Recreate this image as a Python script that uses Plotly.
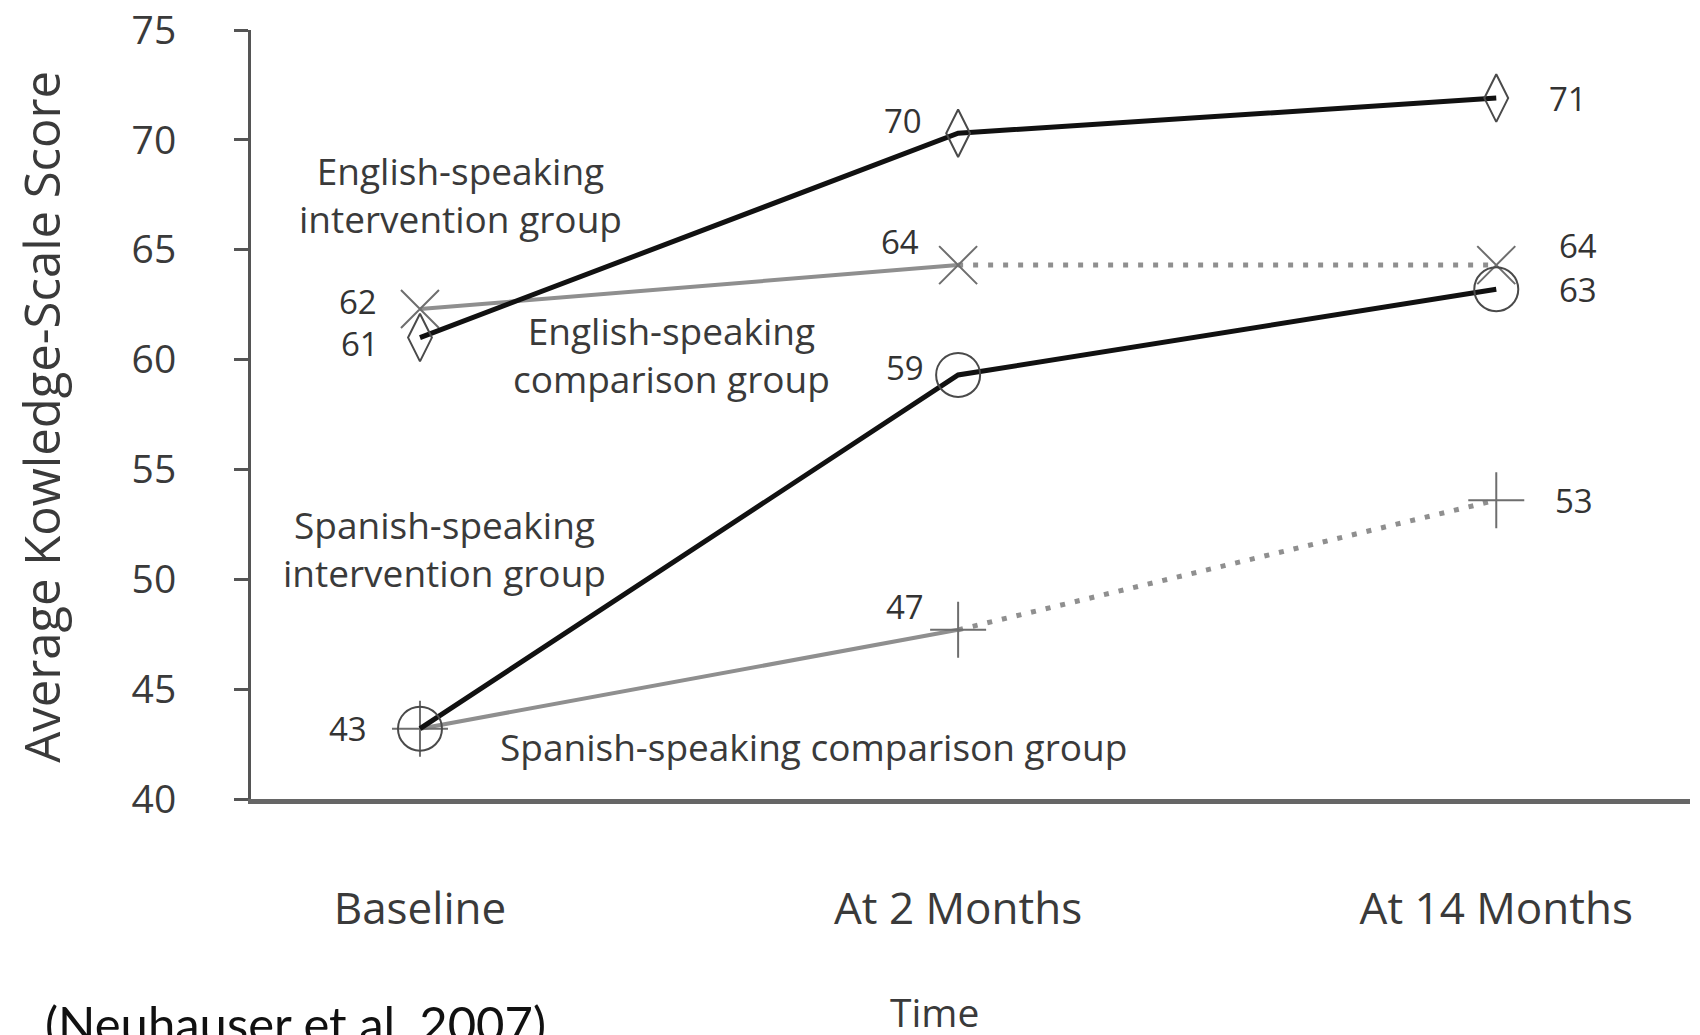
import plotly.graph_objects as go

# categories on the time axis
time_points = ["Baseline", "At 2 Months", "At 14 Months"]
x_pos = [0, 1, 2]

# average knowledge-scale scores (plotted positions)
eng_intervention = [61.0, 70.3, 71.9]
eng_comparison = [62.3, 64.3, 64.3]
spa_intervention = [43.2, 59.3, 63.2]
spa_comparison = [43.2, 47.7, 53.6]

# printed value labels
eng_intervention_labels = ["61", "70", "71"]
eng_comparison_labels = ["62", "64", "64"]
spa_intervention_labels = ["43", "59", "63"]
spa_comparison_labels = ["", "47", "53"]

y_ticks = [40, 45, 50, 55, 60, 65, 70, 75]

# pixel offsets (right, up) of the value labels from their points
eng_intervention_off = [(-60, -6), (-55, 13), (72, 0)]
eng_comparison_off = [(-62, 8), (-58, 24), (82, 20)]
spa_intervention_off = [(-72, 0), (-53, 7), (82, 0)]
spa_comparison_off = [(0, 0), (-53, 23), (78, 0)]

BLACK = "#111111"
GREY_LINE = "#8f8f8f"
MARK_DARK = "#4a4a4a"
MARK_GREY = "#6e6e6e"
TEXT = "#333333"

fig = go.Figure()

# comparison groups: solid to 2 months, dotted afterwards
for series in [eng_comparison, spa_comparison]:
    fig.add_trace(go.Scatter(
        x=x_pos[:2], y=series[:2], mode="lines",
        line=dict(color=GREY_LINE, width=4), hoverinfo="skip", showlegend=False
    ))
    fig.add_trace(go.Scatter(
        x=x_pos[1:], y=series[1:], mode="lines",
        line=dict(color=GREY_LINE, width=5, dash="5px,10px"), hoverinfo="skip", showlegend=False
    ))

fig.add_trace(go.Scatter(
    x=x_pos, y=eng_comparison, mode="markers",
    marker=dict(symbol="x-thin-open", size=38, color=MARK_GREY, line=dict(width=2, color=MARK_GREY)),
    showlegend=False
))
fig.add_trace(go.Scatter(
    x=x_pos, y=spa_comparison, mode="markers",
    marker=dict(symbol="cross-thin-open", size=40, color=MARK_GREY, line=dict(width=2, color=MARK_GREY)),
    showlegend=False
))

# intervention groups
fig.add_trace(go.Scatter(
    x=x_pos, y=eng_intervention, mode="lines+markers",
    line=dict(color=BLACK, width=5),
    marker=dict(symbol="diamond-tall-open", size=34, color=MARK_DARK, line=dict(width=2, color=MARK_DARK)),
    showlegend=False
))
fig.add_trace(go.Scatter(
    x=x_pos, y=spa_intervention, mode="lines+markers",
    line=dict(color=BLACK, width=5),
    marker=dict(symbol="circle-open", size=44, color=MARK_DARK, line=dict(width=2, color=MARK_DARK)),
    showlegend=False
))

# value labels
for series, labels, offs in [
    (eng_intervention, eng_intervention_labels, eng_intervention_off),
    (eng_comparison, eng_comparison_labels, eng_comparison_off),
    (spa_intervention, spa_intervention_labels, spa_intervention_off),
    (spa_comparison, spa_comparison_labels, spa_comparison_off),
]:
    for xv, yv, lab, (dx, dy) in zip(x_pos, series, labels, offs):
        if not lab:
            continue
        fig.add_annotation(
            x=xv, y=yv, text=lab, showarrow=False, xshift=dx, yshift=dy,
            xanchor="center", yanchor="middle",
            font=dict(size=33, color=TEXT, family="Open Sans")
        )

# group names
group_notes = [
    ("English-speaking<br>intervention group", 0.076, 67.5),
    ("English-speaking<br>comparison group", 0.468, 60.25),
    ("Spanish-speaking<br>intervention group", 0.045, 51.4),
    ("Spanish-speaking comparison group", 0.732, 42.4),
]
for txt, xv, yv in group_notes:
    fig.add_annotation(
        x=xv, y=yv, text=txt, showarrow=False, xanchor="center", yanchor="middle",
        font=dict(size=37, color="#3a3a3a", family="Open Sans")
    )

# axis titles and source
fig.add_annotation(
    xref="paper", yref="paper", x=-0.146, y=0.497, xanchor="center", yanchor="middle",
    text="Average Kowledge-Scale Score", textangle=-90, showarrow=False,
    font=dict(size=49, color="#3a3a3a", family="Open Sans")
)
fig.add_annotation(
    xref="paper", yref="paper", x=0.475, y=-0.276, xanchor="center", yanchor="middle",
    text="Time", showarrow=False, font=dict(size=39, color="#3a3a3a", family="Open Sans")
)
fig.add_annotation(
    xref="paper", yref="paper", x=-0.1445, y=-0.291, xanchor="left", yanchor="middle",
    text="(Neuhauser et al. 2007)", showarrow=False,
    font=dict(size=49, color="#111111", family="Lato")
)

fig.update_layout(
    width=1700, height=1035,
    margin=dict(l=243, r=18, t=22, b=244, autoexpand=False),
    plot_bgcolor="white", paper_bgcolor="white",
    showlegend=False,
    font=dict(family="Open Sans", color=TEXT),
    xaxis=dict(
        range=[-0.314, 2.36], tickvals=x_pos, ticktext=time_points,
        showline=True, linewidth=5, linecolor="#666666",
        showgrid=False, zeroline=False, ticks="", automargin=False,
        tickfont=dict(size=44, color="#3a3a3a"), ticklabelstandoff=67
    ),
    yaxis=dict(
        range=[40, 75], tickvals=y_ticks,
        showline=True, linewidth=3, linecolor="#555555",
        ticks="outside", ticklen=14, tickwidth=3, tickcolor="#555555",
        showgrid=False, zeroline=False, automargin=False, ticklabeloverflow="allow",
        tickfont=dict(size=39, color="#3a3a3a"), ticklabelstandoff=50
    ),
)

fig.write_html("out.html")
